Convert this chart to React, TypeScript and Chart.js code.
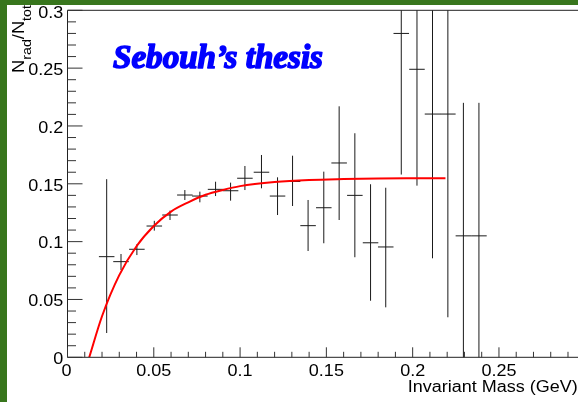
import React, { useEffect, useRef } from "react";
import { Chart, registerables } from "chart.js";

Chart.register(...registerables);

// Measured ratio per invariant-mass bin (bin centres in GeV)
const massCenters = [
  0.0227, 0.031, 0.0402, 0.0503, 0.0594, 0.068, 0.0767, 0.0858, 0.0945, 0.1028,
  0.1124, 0.1217, 0.1304, 0.1394, 0.1485, 0.1574, 0.1665, 0.1756, 0.1844, 0.1934,
  0.2025, 0.2115, 0.2204, 0.2294, 0.2384,
];
const radRatio = [
  0.087, 0.0827, 0.0934, 0.1135, 0.123, 0.1403, 0.1394, 0.1452, 0.144, 0.1548,
  0.16, 0.1394, 0.152, 0.1138, 0.1293, 0.168, 0.14, 0.099, 0.0954, 0.28,
  0.249, 0.2103, 0.2103, 0.105, 0.105,
];
// Upper / lower ends of the error bars
const ratioHigh = [
  0.154, 0.0893, 0.0977, 0.118, 0.1268, 0.1446, 0.1432, 0.1518, 0.151, 0.1654,
  0.1749, 0.1556, 0.1743, 0.136, 0.1605, 0.217, 0.1937, 0.1496, 0.1466, 0.402,
  0.35, 0.335, 0.386, 0.22, 0.22,
];
const ratioLow = [
  0.021, 0.0755, 0.0884, 0.1095, 0.1187, 0.136, 0.134, 0.1394, 0.1354, 0.1446,
  0.1461, 0.123, 0.1308, 0.0919, 0.0986, 0.1187, 0.0865, 0.0489, 0.0432, 0.158,
  0.1484, 0.0856, 0.0346, -0.01, -0.01,
];
const binHalfWidth = 0.0045;

// Saturating fit curve, sampled
const fitMass = [
  0.0126, 0.02, 0.03, 0.04, 0.05, 0.06, 0.07, 0.08, 0.09, 0.1, 0.12, 0.14, 0.16,
  0.18, 0.2, 0.219,
];
const fitRatio = [
  0, 0.0355, 0.071, 0.096, 0.1135, 0.126, 0.134, 0.1405, 0.1447, 0.148, 0.1515,
  0.1533, 0.1541, 0.1546, 0.1548, 0.1549,
];

const yTicks = [0, 0.05, 0.1, 0.15, 0.2, 0.25, 0.3];
const yTickLabels = ["0", "0.05", "0.1", "0.15", "0.2", "0.25", "0.3"];
const xTicks = [0, 0.05, 0.1, 0.15, 0.2, 0.25];
const xTickLabels = ["0", "0.05", "0.1", "0.15", "0.2", "0.25"];

const X_MAX = 0.2958;
const Y_MAX = 0.3;
const GREEN = "#38761d";
const SANS = "'Liberation Sans', Arial, sans-serif";

function stretchedText(
  ctx: CanvasRenderingContext2D,
  text: string,
  x: number,
  y: number,
  sx: number,
  align: "left" | "right" | "center",
  outline = 0
) {
  const w = ctx.measureText(text).width * sx;
  let left = x;
  if (align === "right") left = x - w;
  if (align === "center") left = x - w / 2;
  ctx.save();
  ctx.translate(left, y);
  ctx.scale(sx, 1);
  ctx.textAlign = "left";
  ctx.fillText(text, 0, 0);
  if (outline > 0) {
    ctx.lineWidth = outline;
    ctx.lineJoin = "round";
    ctx.strokeStyle = ctx.fillStyle as string;
    ctx.strokeText(text, 0, 0);
  }
  ctx.restore();
}

const rootStyle = {
  id: "rootStyle",
  beforeDraw(chart: any) {
    const { ctx, width, height } = chart;
    ctx.save();
    ctx.fillStyle = "#ffffff";
    ctx.fillRect(0, 0, width, height);
    ctx.restore();
  },
  beforeDatasetsDraw(chart: any) {
    const { ctx, chartArea: a, scales } = chart;
    const xs = scales.x;
    const ys = scales.y;
    ctx.save();
    ctx.beginPath();
    ctx.rect(a.left, a.top, a.right - a.left, a.bottom - a.top);
    ctx.clip();
    ctx.strokeStyle = "#1a1a1a";
    ctx.lineWidth = 1;
    massCenters.forEach((m, i) => {
      const px = xs.getPixelForValue(m);
      const py = ys.getPixelForValue(radRatio[i]);
      ctx.beginPath();
      ctx.moveTo(xs.getPixelForValue(m - binHalfWidth), py);
      ctx.lineTo(xs.getPixelForValue(m + binHalfWidth), py);
      ctx.moveTo(px, ys.getPixelForValue(ratioHigh[i]));
      ctx.lineTo(px, ys.getPixelForValue(ratioLow[i]));
      ctx.stroke();
    });
    ctx.restore();
  },
  afterDraw(chart: any) {
    const { ctx, chartArea: a, scales, width, height } = chart;
    const xs = scales.x;
    const ys = scales.y;
    ctx.save();

    // frame and axes
    ctx.strokeStyle = "#222";
    ctx.lineWidth = 1;
    ctx.beginPath();
    ctx.moveTo(a.left, a.top);
    ctx.lineTo(a.right, a.top);
    ctx.moveTo(a.left, a.top);
    ctx.lineTo(a.left, a.bottom);
    ctx.lineTo(a.right, a.bottom);
    ctx.stroke();

    // y ticks (inside the frame)
    ctx.strokeStyle = "#333";
    ctx.beginPath();
    for (let i = 0; i <= 30; i++) {
      const v = i / 100;
      const py = ys.getPixelForValue(v);
      const len = i % 5 === 0 ? 15 : 8.5;
      ctx.moveTo(a.left, py);
      ctx.lineTo(a.left + len, py);
    }
    // x ticks
    for (let i = 0; i <= 29; i++) {
      const v = i / 100;
      if (v > X_MAX) break;
      const px = xs.getPixelForValue(v);
      const len = i % 5 === 0 ? 10 : 5.5;
      ctx.moveTo(px, a.bottom);
      ctx.lineTo(px, a.bottom - len);
    }
    ctx.stroke();

    // tick labels
    ctx.fillStyle = "#000";
    ctx.font = `17px ${SANS}`;
    ctx.textBaseline = "alphabetic";
    yTicks.forEach((v, i) => {
      const py = ys.getPixelForValue(v);
      const base = Math.max(py + 6.7, 18.3);
      stretchedText(ctx, yTickLabels[i], a.left - 4.2, base, 1.06, "right");
    });
    xTicks.forEach((v, i) => {
      const px = xs.getPixelForValue(v);
      stretchedText(ctx, xTickLabels[i], px - (i === 0 ? 1 : 0), 375.7, 1.06, "center");
    });

    // x axis title, right aligned at the frame end
    ctx.font = `16px ${SANS}`;
    const xt = "Invariant Mass (GeV)";
    const xtw = ctx.measureText(xt).width;
    stretchedText(ctx, xt, 577.7, 392, 170 / xtw, "right");

    // y axis title N_rad / N_tot, rotated
    const mainFont = `16px ${SANS}`;
    const subFont = `12.5px ${SANS}`;
    const parts: [string, boolean][] = [
      ["N", false],
      ["rad", true],
      ["/", false],
      ["N", false],
      ["tot", true],
    ];
    let total = 0;
    const widths = parts.map(([t, sub]) => {
      ctx.font = sub ? subFont : mainFont;
      const w = ctx.measureText(t).width;
      total += w;
      return w;
    });
    const sy = 68 / total;
    ctx.save();
    ctx.translate(23.5, 73);
    ctx.rotate(-Math.PI / 2);
    ctx.scale(sy, 1);
    let off = 0;
    parts.forEach(([t, sub], i) => {
      ctx.font = sub ? subFont : mainFont;
      ctx.fillText(t, off, sub ? 7.5 : 0);
      off += widths[i];
    });
    ctx.restore();

    // script title
    ctx.fillStyle = "#0000ff";
    ctx.font = `bold italic 33px 'Liberation Serif', 'DejaVu Serif', serif`;
    const tt = "Sebouh\u2019s thesis";
    const ttw = ctx.measureText(tt).width;
    stretchedText(ctx, tt, 113, 68, 210 / ttw, "left", 1.6);

    // green page border (top and left)
    ctx.fillStyle = GREEN;
    ctx.fillRect(0, 0, width, 5);
    ctx.fillRect(0, 0, 7, height);

    ctx.restore();
  },
};

export default function App() {
  const canvasRef = useRef<HTMLCanvasElement | null>(null);

  useEffect(() => {
    document.body.style.margin = "0";
    const canvas = canvasRef.current;
    if (!canvas) return;
    const chart = new Chart(canvas, {
      type: "scatter",
      data: {
        datasets: [
          {
            label: "Data",
            data: massCenters.map((m, i) => ({ x: m, y: radRatio[i] })),
            pointRadius: 0,
            showLine: false,
          },
          {
            label: "Fit",
            data: fitMass.map((m, i) => ({ x: m, y: fitRatio[i] })),
            showLine: true,
            borderColor: "#ff0000",
            borderWidth: 2,
            pointRadius: 0,
            cubicInterpolationMode: "monotone",
            fill: false,
          },
        ],
      },
      options: {
        responsive: false,
        animation: false,
        devicePixelRatio: 1,
        layout: { padding: { left: 67.5, top: 10.3, right: 0, bottom: 44.7 } },
        plugins: {
          legend: { display: false },
          tooltip: { enabled: false },
          title: { display: false },
        },
        scales: {
          x: { type: "linear", min: 0, max: X_MAX, display: false },
          y: { type: "linear", min: 0, max: Y_MAX, display: false },
        },
      },
      plugins: [rootStyle],
    });
    return () => chart.destroy();
  }, []);

  return (
    <div style={{ position: "fixed", left: 0, top: 0, width: 578, height: 402, overflow: "hidden" }}>
      <canvas ref={canvasRef} width={578} height={402} style={{ display: "block" }} />
    </div>
  );
}
